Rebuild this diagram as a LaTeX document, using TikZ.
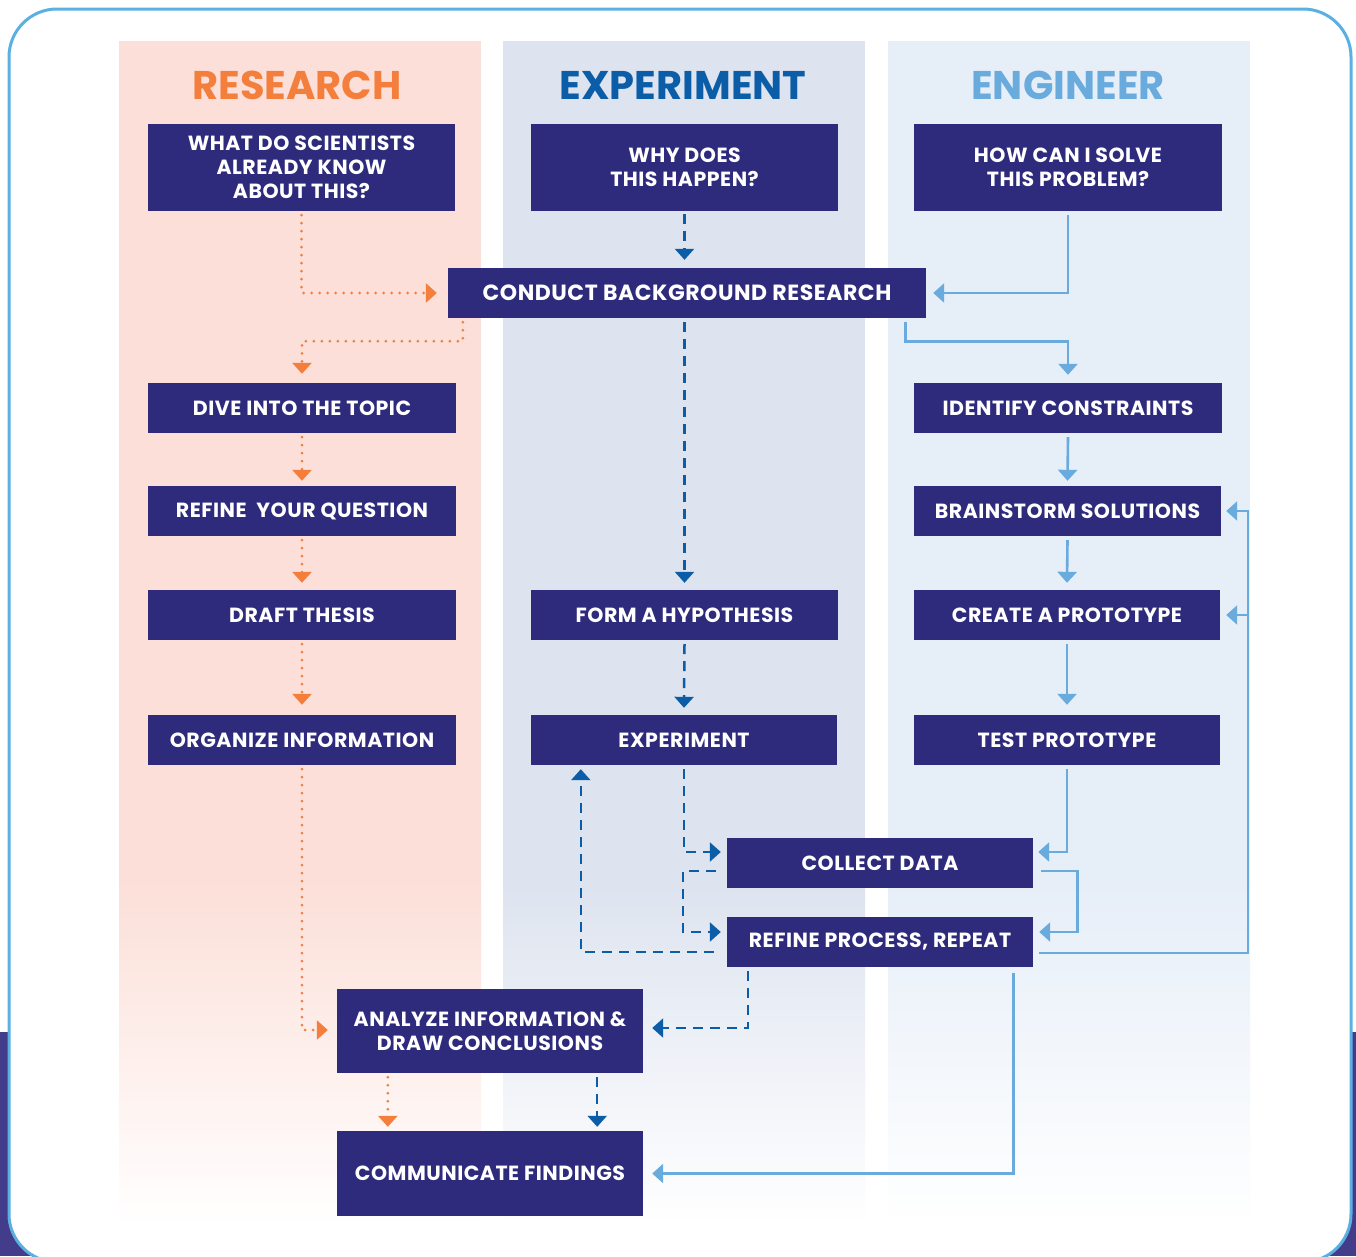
\documentclass[tikz,border=0pt]{standalone}
\usepackage{fontspec}
\setmainfont{Poppins}
\usetikzlibrary{arrows.meta,calc}
\definecolor{navy}{HTML}{2E2A7C}
\definecolor{orangec}{HTML}{F47F3C}
\definecolor{dblue}{HTML}{0A5DA6}
\definecolor{lblue}{HTML}{6AABDD}
\definecolor{resbg}{HTML}{FCDFD8}
\definecolor{expbg}{HTML}{DDE3EF}
\definecolor{engbg}{HTML}{E6EEF8}
\definecolor{framec}{HTML}{5BB0E2}
\definecolor{purplebg}{HTML}{433C8A}
\begin{document}
\begin{tikzpicture}[x=1pt,y=-1pt,
  box/.style={fill=navy,text=white,
    font=\bfseries\fontsize{20.5}{24}\selectfont\addfontfeature{LetterSpace=2.5},
    align=center,inner sep=0pt,minimum width=307pt,minimum height=50pt},
  tall/.style={minimum height=87pt},
  bigtext/.style={font=\bfseries\fontsize{22}{26}\selectfont\addfontfeature{LetterSpace=2.5}},
  heading/.style={font=\bfseries\fontsize{40}{46}\selectfont,inner sep=0pt},
  tip/.style={-{Triangle[width=19pt,length=11pt]}},
  orangeline/.style={tip,draw=orangec,line width=3pt,line cap=round,dash pattern=on 0pt off 8pt},
  darkline/.style={tip,draw=dblue,line width=2.5pt,dash pattern=on 10pt off 7pt},
  lightline/.style={tip,draw=lblue,line width=2.6pt}]
\useasboundingbox (0,0) rectangle (1356,1256);
% page frame
\fill[purplebg] (0,1032) rectangle (1356,1256);
\fill[white,rounded corners=48pt] (9,9) rectangle (1351,1262);
% column panels, fading out towards the bottom
\fill[resbg] (119,41) rectangle (481,881);
\shade[top color=resbg,bottom color=white] (119,880) rectangle (481,1225);
\fill[expbg] (503,41) rectangle (865,881);
\shade[top color=expbg,bottom color=white] (503,880) rectangle (865,1225);
\fill[engbg] (888,41) rectangle (1250,881);
\shade[top color=engbg,bottom color=white] (888,880) rectangle (1250,1225);
\draw[framec,line width=3pt,rounded corners=48pt] (9,9) rectangle (1351,1262);

% headings
\node[heading,text=orangec] (hres) at (297,85) {RESEARCH};
\node[heading,text=dblue] (hexp) at (683,85) {EXPERIMENT};
\node[heading,text=lblue] (heng) at (1068,85) {ENGINEER};

% research column
\node[box,tall] (q1) at (301.5,167.5) {WHAT DO SCIENTISTS\\ALREADY KNOW\\ABOUT THIS?};
\node[box,minimum width=308pt] (dive) at (302,408) {DIVE INTO THE TOPIC};
\node[box,minimum width=308pt] (refq) at (302,511) {REFINE\ \ YOUR QUESTION};
\node[box,minimum width=308pt] (draft) at (302,615) {DRAFT THESIS};
\node[box,minimum width=308pt] (org) at (302,740) {ORGANIZE INFORMATION};

% experiment column
\node[box,tall] (why) at (684.5,167.5) {WHY DOES\\THIS HAPPEN?};
\node[box,bigtext,minimum width=478pt] (cbr) at (687,293) {CONDUCT BACKGROUND RESEARCH};
\node[box] (form) at (684.5,615) {FORM A HYPOTHESIS};
\node[box,minimum width=306pt] (exp) at (684,740) {EXPERIMENT};
\node[box,minimum width=306pt] (collect) at (880,863) {COLLECT DATA};
\node[box,minimum width=306pt] (refine) at (880,942) {REFINE PROCESS, REPEAT};
\node[box,minimum width=306pt,minimum height=84pt] (analyze) at (490,1031) {ANALYZE INFORMATION \&\\DRAW CONCLUSIONS};
\node[box,minimum width=306pt,minimum height=85pt] (comm) at (490,1173.5) {COMMUNICATE FINDINGS};

% engineer column
\node[box,tall,minimum width=308pt] (how) at (1068,167.5) {HOW CAN I SOLVE\\THIS PROBLEM?};
\node[box,minimum width=308pt] (ident) at (1068,408) {IDENTIFY CONSTRAINTS};
\node[box] (brain) at (1067.5,511) {BRAINSTORM SOLUTIONS};
\node[box,minimum width=306pt] (create) at (1067,615) {CREATE A PROTOTYPE};
\node[box,minimum width=306pt] (test) at (1067,740) {TEST PROTOTYPE};

% research path (dotted)
\draw[orangeline] ([yshift=-4pt]q1.south) |- ([xshift=-11pt]cbr.west);
\draw[orangeline] ($(cbr.south west)+(15,4)$) -- ++(0,19) -| ([yshift=9pt]dive.north);
\draw[orangeline] ([yshift=-4pt]dive.south) -- ([yshift=5pt]refq.north);
\draw[orangeline] ([yshift=-4pt]refq.south) -- ([yshift=7pt]draft.north);
\draw[orangeline] ([yshift=-4pt]draft.south) -- ([yshift=10pt]org.north);
\draw[orangeline] ([yshift=-4pt]org.south) |- ($(analyze.west)+(-9,-1)$);
\draw[orangeline] ($(analyze.south west)+(51,4)$) -- ($(comm.north west)+(51,-4)$);

% experiment path (dashed)
\draw[darkline] ([yshift=-3pt]why.south) -- ([yshift=8pt]why.south |- cbr.north);
\draw[darkline] ($(form.north |- cbr.south)+(0,4)$) -- ([yshift=7pt]form.north);
\draw[darkline] ([yshift=-4pt]form.south) -- ([yshift=7pt]exp.north);
\draw[darkline] ([yshift=-4pt]exp.south) |- ($(collect.west)+(-6,-11)$);
\draw[darkline] ($(collect.west)+(-11,8)$) -- ++(-33,0) |- ($(refine.west)+(-6,-10)$);
\draw[darkline] ($(refine.west)+(-13,10)$) -| ($(exp.south west)+(50,4)$);
\draw[darkline] ($(refine.south west)+(21,4)$) |- ($(analyze.east)+(9,-3)$);
\draw[darkline] ($(analyze.south east)+(-46,4)$) -- ($(comm.north east)+(-46,-4)$);

% engineer path (solid)
\coordinate (loop) at (1248,953);
\draw[lightline] ([yshift=-4pt]how.south) |- ([xshift=7pt]cbr.east);
\draw[lightline] ($(cbr.south east)+(-21,4)$) -- ++(0,19) -| ([yshift=8pt]ident.north);
\draw[lightline] ([yshift=-4pt]ident.south) -- ([yshift=5pt]brain.north);
\draw[lightline] ([yshift=-4pt]brain.south) -- ([yshift=7pt]create.north);
\draw[lightline] ([yshift=-4pt]create.south) -- ([yshift=10pt]test.north);
\draw[lightline] ([yshift=-4pt]test.south) |- ($(collect.east)+(5,-11)$);
\draw[lightline] ($(collect.east)+(8,8)$) -- ++(36,0) |- ($(refine.east)+(6,-10)$);
\draw[lightline] ($(refine.east)+(6,11)$) -- (loop) |- ([xshift=5pt]brain.east);
\draw[lightline] (loop |- create.east) -- ([xshift=6pt]create.east);
\draw[lightline] ($(refine.south east)+(-20,6)$) |- ([xshift=9pt]comm.east);
\end{tikzpicture}
\end{document}
